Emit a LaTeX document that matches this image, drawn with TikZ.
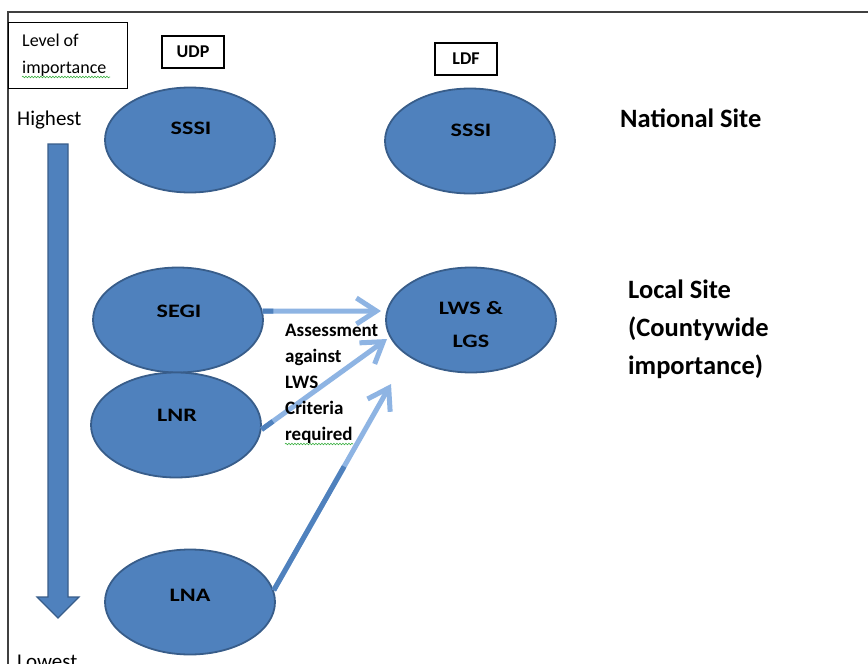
\documentclass[tikz,border=0pt]{standalone}
\usepackage{fontspec}
\setmainfont{Carlito}
\usepackage{graphicx}
\usetikzlibrary{shapes.geometric,arrows.meta,calc,decorations.pathmorphing}
\definecolor{ofblue}{HTML}{4F81BD}
\definecolor{ofedge}{HTML}{385D8A}
\definecolor{ltblue}{HTML}{8EB4E3}
\definecolor{framegray}{HTML}{404040}
\definecolor{spell}{HTML}{3CB043}
\newcommand{\fsz}[1]{\fontsize{#1}{#1}\selectfont}
\newcommand{\widetxt}[1]{\scalebox{1.27}[1]{#1}}
\begin{document}
\begin{tikzpicture}[x=1pt,y=-1pt,
  site/.style={ellipse, draw=ofedge, fill=ofblue, line width=1.8pt, minimum width=170pt, minimum height=105pt, inner sep=0pt},
  sitelabel/.style={anchor=base, inner sep=0pt, font=\fsz{19}\bfseries},
  tagbox/.style={draw=black, line width=1.2pt, minimum width=62pt, minimum height=32pt, inner sep=0pt, font=\fsz{18}\bfseries},
  plain/.style={anchor=base west, inner sep=0pt},
  flow/.style={ltblue, line width=5pt, -{Straight Barb[length=20pt,width=26pt]}},
  flowdark/.style={ofblue, line width=5pt},
  squiggle/.style={spell, line width=0.6pt, decorate, decoration={snake, amplitude=0.8pt, segment length=3pt}}
]
\useasboundingbox (0,0) rectangle (868,664);
\clip (0,0) rectangle (868,664);
\fill[white] (0,0) rectangle (868,664);

% frame
\draw[framegray, line width=1.6pt] (868,12) -- (8,12) -- (8,670);

% level of importance box
\node[draw=black, line width=1.2pt, anchor=north west, minimum width=119pt, minimum height=66pt, inner sep=0pt] (lvl) at (8,22) {};
\node[plain, font=\fsz{18}] (lvl1) at (22,46) {Level of};
\node[plain, font=\fsz{18}] (lvl2) at (22,73) {importance};
\draw[squiggle] (22,77) -- (110,77);

% tag boxes
\node[tagbox] (udp) at (193,52) {UDP};
\node[tagbox] (ldf) at (466,59) {LDF};

% importance arrow
\draw[fill=ofblue, draw=ofedge, line width=1.2pt] (48,144) -- (68,144) -- (68,597) -- (79,597) -- (58,618) -- (37,597) -- (48,597) -- cycle;
\node[plain, font=\fsz{21}] (hi) at (17,125) {Highest};
\node[plain, font=\fsz{21}] (lo) at (17,668) {Lowest};

% sites
\node[site] (sssiU) at (190,140) {};
\node[site] (sssiL) at (470,141) {};
\node[site] (segi) at (178,320) {};
\node[site] (lnr) at (176,425) {};
\node[site] (lna) at (190,602) {};
\node[site] (lws) at (471,320) {};

\node[sitelabel] (sssiUt) at (191,134) {\widetxt{SSSI}};
\node[sitelabel] (sssiLt) at (471,136) {\widetxt{SSSI}};
\node[sitelabel] (segit) at (179,317) {\widetxt{SEGI}};
\node[sitelabel] (lnrt) at (177,421) {\widetxt{LNR}};
\node[sitelabel] (lnat) at (190,601) {\widetxt{LNA}};
\node[sitelabel] (lwst1) at (471,314) {\widetxt{LWS \&}};
\node[sitelabel] (lwst2) at (471,347) {\widetxt{LGS}};

% flows
\coordinate (t1) at (381,311);
\coordinate (t2) at (387,339);
\coordinate (t3) at (391,384);
\draw[flow] (segi.6) -- (t1);
\draw[flow] (lnr.-3) -- (t2);
\draw[flow] (lna.8) -- (t3);
\draw[flowdark] (segi.6) -- ($(segi.6)!0.09!(t1)$);
\draw[flowdark] (lnr.-3) -- ($(lnr.-3)!0.09!(t2)$);
\draw[flowdark] (lna.8) -- ($(lna.8)!0.6!(t3)$);

% assessment text
\node[plain, font=\fsz{19}\bfseries] (as1) at (285,336) {Assessment};
\node[plain, font=\fsz{19}\bfseries] (as2) at (285,362) {against};
\node[plain, font=\fsz{19}\bfseries] (as3) at (285,388) {LWS};
\node[plain, font=\fsz{19}\bfseries] (as4) at (285,414) {Criteria};
\node[plain, font=\fsz{19}\bfseries] (as5) at (285,440) {required};
\draw[squiggle] (285,444) -- (353,444);

% right labels
\node[plain, font=\fsz{26.5}\bfseries] (nat) at (620,127) {National Site};
\node[plain, font=\fsz{26.5}\bfseries] (loc1) at (628,298) {Local Site};
\node[plain, font=\fsz{26.5}\bfseries] (loc2) at (628,336) {(Countywide};
\node[plain, font=\fsz{26.5}\bfseries] (loc3) at (628,374) {importance)};
\end{tikzpicture}
\end{document}
